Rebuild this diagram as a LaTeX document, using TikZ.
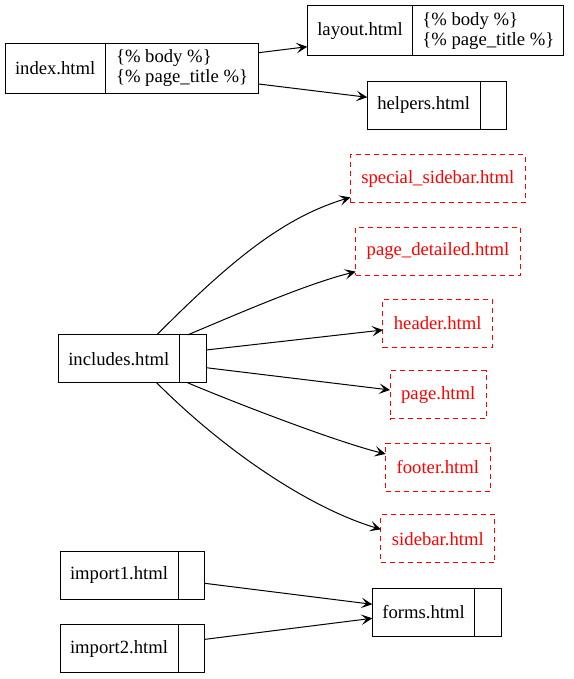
\documentclass[tikz,border=0pt]{standalone}
\usepackage{fontspec}
\setmainfont{Liberation Serif}
\usepackage{tikz}
\usetikzlibrary{arrows.meta, positioning}

\begin{document}
\begin{tikzpicture}[x=1pt, y=-1pt,
  font=\fontsize{18.67}{20}\selectfont,
  cell/.style={draw, line width=1pt, minimum height=48pt, inner xsep=10pt, inner ysep=0pt, outer sep=0pt},
  field/.style={cell, minimum width=26.7pt, inner xsep=0pt},
  incl/.style={draw=red, text=red, line width=1pt, dashed, dash pattern=on 5pt off 4pt, minimum height=48pt, inner xsep=11pt, inner ysep=0pt, outer sep=0pt},
  arr/.style={-{Stealth[length=11pt, width=10.5pt, inset=5pt]}, line width=1pt}
]
  \useasboundingbox (0,0) rectangle (573,679);

  % records
  \node[cell, anchor=west, minimum height=50pt] (index) at (5,68.3) {index.html};
  \node[field, minimum height=50pt, minimum width=153.3pt, align=left, right=0pt of index] (index-f) {\{\% body \%\}\\\{\% page\_title \%\}};
  \node[cell, anchor=west, minimum height=50pt] (layout) at (307.3,31) {layout.html};
  \node[field, minimum height=50pt, minimum width=151pt, align=left, right=0pt of layout] (layout-f) {\{\% body \%\}\\\{\% page\_title \%\}};
  \node[cell, anchor=west] (helpers) at (367.3,105.5) {helpers.html};
  \node[field, right=0pt of helpers] (helpers-f) {};

  \node[cell, anchor=west] (inc) at (58.3,358.85) {includes.html};
  \node[field, right=0pt of inc] (inc-f) {};

  \node[cell, anchor=west] (import1) at (60,575.15) {import1.html};
  \node[field, right=0pt of import1] (import1-f) {};
  \node[cell, anchor=west] (import2) at (60,648.85) {import2.html};
  \node[field, right=0pt of import2] (import2-f) {};
  \node[cell, anchor=west] (forms) at (372.3,612.15) {forms.html};
  \node[field, right=0pt of forms] (forms-f) {};

  % included templates
  \node[incl] (special) at (437.85,178.85) {special\_sidebar.html};
  \node[incl] (detailed) at (438,251.15) {page\_detailed.html};
  \node[incl] (header) at (437.7,323.3) {header.html};
  \node[incl] (page) at (438.2,394.85) {page.html};
  \node[incl] (footer) at (437.85,467.15) {footer.html};
  \node[incl] (sidebar) at (437.85,538.85) {sidebar.html};

  \draw[arr] ([yshift=15.6pt]index-f.east) -- ([yshift=-15.7pt]layout.west);
  \draw[arr] ([yshift=-15.7pt]index-f.east) -- ([yshift=8.2pt]helpers.west);

  \draw[arr] ([xshift=37.9pt]inc.north) .. controls +(70,-70) and +(-70,21) .. ([yshift=-18.5pt]special.west);
  \draw[arr] ([xshift=-5pt]inc-f.north) .. controls +(50,-21) and +(-50,12.5) .. ([yshift=-20.5pt]detailed.west);
  \draw[arr] ([yshift=8.85pt]inc-f.east) -- ([yshift=-6.7pt]header.west);
  \draw[arr] ([yshift=-8.85pt]inc-f.east) -- ([yshift=4.85pt]page.west);
  \draw[arr] ([xshift=-5pt]inc-f.south) .. controls +(50,21) and +(-50,-12.5) .. ([yshift=13.15pt]footer.west);
  \draw[arr] ([xshift=37.9pt]inc.south) .. controls +(70,70) and +(-70,-21) .. ([yshift=9.5pt]sidebar.west);

  \draw[arr] ([yshift=-8.15pt]import1-f.east) -- ([yshift=7.85pt]forms.west);
  \draw[arr] ([yshift=9.5pt]import2-f.east) -- ([yshift=-6.15pt]forms.west);
\end{tikzpicture}
\end{document}
